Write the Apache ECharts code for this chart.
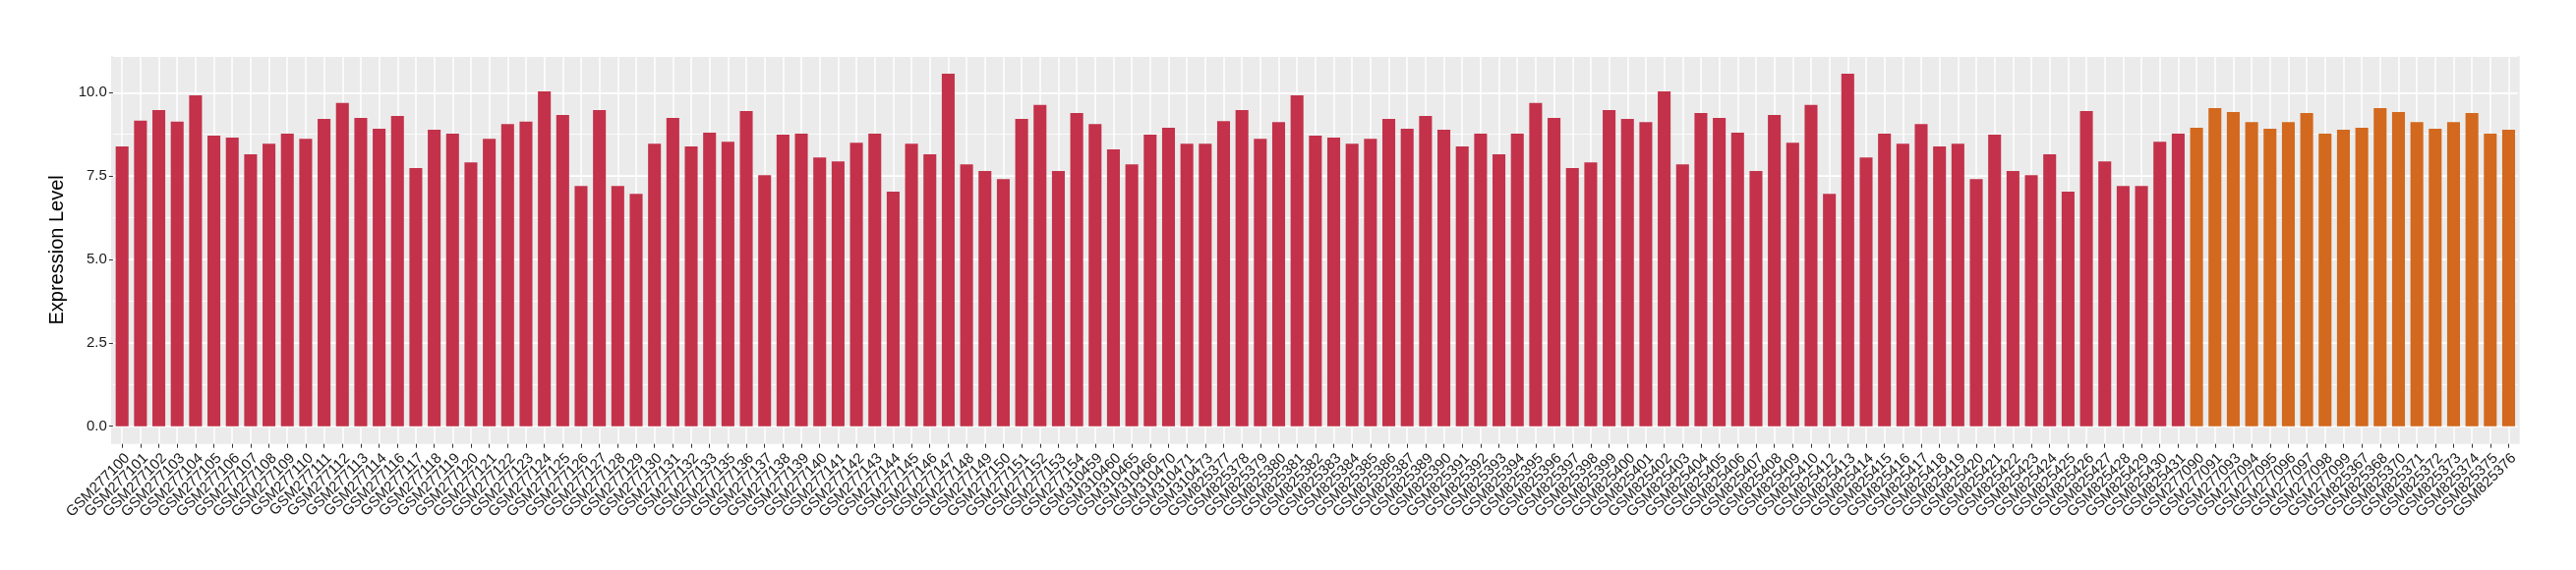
<!DOCTYPE html>
<html>
<head>
<meta charset="utf-8">
<script src="https://cdn.jsdelivr.net/npm/echarts@6/dist/echarts.min.js"></script>
<style>
html,body{margin:0;padding:0;background:#fff;}
#chart{width:2620px;height:580px;}
</style>
</head>
<body>
<div id="chart"></div>
<script>
// Group 1 (red)
const categoriesA = [
 'GSM277100','GSM277101','GSM277102','GSM277103','GSM277104','GSM277105','GSM277106','GSM277107','GSM277108','GSM277109',
 'GSM277110','GSM277111','GSM277112','GSM277113','GSM277114','GSM277116','GSM277117','GSM277118','GSM277119','GSM277120',
 'GSM277121','GSM277122','GSM277123','GSM277124','GSM277125','GSM277126','GSM277127','GSM277128','GSM277129','GSM277130',
 'GSM277131','GSM277132','GSM277133','GSM277135','GSM277136','GSM277137','GSM277138','GSM277139','GSM277140','GSM277141',
 'GSM277142','GSM277143','GSM277144','GSM277145','GSM277146','GSM277147','GSM277148','GSM277149','GSM277150','GSM277151',
 'GSM277152','GSM277153','GSM277154','GSM310459','GSM310460','GSM310465','GSM310466','GSM310470','GSM310471','GSM310473',
 'GSM825377','GSM825378','GSM825379','GSM825380','GSM825381','GSM825382','GSM825383','GSM825384','GSM825385','GSM825386',
 'GSM825387','GSM825389','GSM825390','GSM825391','GSM825392','GSM825393','GSM825394','GSM825395','GSM825396','GSM825397',
 'GSM825398','GSM825399','GSM825400','GSM825401','GSM825402','GSM825403','GSM825404','GSM825405','GSM825406','GSM825407',
 'GSM825408','GSM825409','GSM825410','GSM825412','GSM825413','GSM825414','GSM825415','GSM825416','GSM825417','GSM825418',
 'GSM825419','GSM825420','GSM825421','GSM825422','GSM825423','GSM825424','GSM825425','GSM825426','GSM825427','GSM825428',
 'GSM825429','GSM825430','GSM825431'
];
const valuesA = [
 8.39,9.16,9.48,9.13,9.92,8.71,8.65,8.15,8.47,8.77,
 8.62,9.21,9.69,9.24,8.92,9.30,7.74,8.89,8.77,7.91,
 8.62,9.06,9.13,10.04,9.33,7.20,9.48,7.20,6.97,8.47,
 9.24,8.39,8.80,8.53,9.45,7.53,8.74,8.77,8.06,7.94,
 8.50,8.77,7.03,8.47,8.15,10.57,7.85,7.65,7.41,9.21,
 9.63,7.65,9.39,9.06,8.30,7.85,8.74,8.95,8.47,8.47,
 9.15,9.48,8.62,9.12,9.92,8.71,8.65,8.47,8.62,9.21,
 8.92,9.30,8.89,8.39,8.77,8.15,8.77,9.69,9.24,7.74,
 7.91,9.48,9.21,9.12,10.04,7.85,9.39,9.24,8.80,7.65,
 9.33,8.50,9.63,6.97,10.57,8.06,8.77,8.47,9.06,8.39,
 8.47,7.41,8.74,7.65,7.53,8.15,7.03,9.45,7.94,7.20,
 7.20,8.53,8.77
];
// Group 2 (orange)
const categoriesB = [
 'GSM277090','GSM277091','GSM277093','GSM277094','GSM277095','GSM277096','GSM277097','GSM277098','GSM277099',
 'GSM825367','GSM825368','GSM825370','GSM825371','GSM825372','GSM825373','GSM825374','GSM825375','GSM825376'
];
const valuesB = [
 8.95,9.54,9.42,9.12,8.92,9.12,9.39,8.77,8.89,
 8.95,9.54,9.42,9.12,8.92,9.12,9.39,8.77,8.89
];
const colorA = '#C3324A';
const colorB = '#D2691E';
const yTicks = [0, 2.5, 5, 7.5, 10];
const yTitle = 'Expression Level';

const categories = categoriesA.concat(categoriesB);
const barData = valuesA.map(v => ({value: v, itemStyle: {color: colorA}}))
  .concat(valuesB.map(v => ({value: v, itemStyle: {color: colorB}})));

const FONT = 'Liberation Sans, Arial, Helvetica, sans-serif';
const panelBg = '#EBEBEB';
const textColor = '#1A1A1A';

const chart = echarts.init(document.getElementById('chart'), null, {renderer: 'canvas'});
const option = {
  animation: false,
  backgroundColor: '#fff',
  grid: [
    {left: 114.87, right: 59.17, top: 57, height: 376.7, show: false, containLabel: false},
    {left: 114.87, right: 59.17, top: 433.7, height: 18, show: false, containLabel: false},
    {left: 113, right: 57.3, top: 57, height: 394.7, show: true, backgroundColor: panelBg, borderWidth: 0, z: -1}
  ],
  xAxis: [
    {type: 'category', gridIndex: 0, data: categories,
     axisLine: {show: false}, axisTick: {show: false}, axisLabel: {show: false},
     splitLine: {show: true, alignWithLabel: true, interval: 0, lineStyle: {color: '#fff', width: 1.5}}},
    {type: 'category', gridIndex: 1, data: categories, position: 'bottom',
     axisLine: {show: false},
     axisTick: {show: true, alignWithLabel: true, interval: 0, length: 4, lineStyle: {color: '#333', width: 1}},
     axisLabel: {show: true, interval: 0, rotate: 45, fontSize: 15, color: textColor, fontFamily: FONT,
                 margin: 7, verticalAlign: 'top', align: 'right'},
     splitLine: {show: true, alignWithLabel: true, interval: 0, lineStyle: {color: '#fff', width: 1.5}}},
    {type: 'value', gridIndex: 2, show: false, min: 0, max: 1, splitLine: {show: false}}
  ],
  yAxis: [
    {type: 'value', gridIndex: 0, min: 0, max: 11.099, interval: 2.5,
     axisLine: {show: false},
     axisTick: {show: true, length: 4, lineStyle: {color: '#333', width: 1}},
     axisLabel: {show: true, fontSize: 15, color: textColor, fontFamily: FONT, margin: 6,
                 showMaxLabel: false, formatter: v => (yTicks.indexOf(v) >= 0 ? v.toFixed(1) : '')},
     splitLine: {show: true, lineStyle: {color: '#fff', width: 1.5}},
     name: yTitle, nameLocation: 'middle', nameGap: 38, nameRotate: 90,
     nameTextStyle: {fontSize: 20, color: '#000', fontFamily: FONT, padding: [0, 18, 0, 0]}},
    {type: 'value', gridIndex: 0, min: 0, max: 11.099, interval: 1.25,
     axisLine: {show: false}, axisTick: {show: false}, axisLabel: {show: false},
     splitLine: {show: true, lineStyle: {color: '#fff', width: 0.8}}},
    {type: 'value', gridIndex: 1, min: 0, max: 1, show: false, splitLine: {show: false}},
    {type: 'value', gridIndex: 2, min: 0, max: 1, show: false, splitLine: {show: false}}
  ],
  series: [{
    type: 'bar', xAxisIndex: 0, yAxisIndex: 0, data: barData,
    barWidth: '70%'
  }]
};
chart.setOption(option);
</script>
</body>
</html>
